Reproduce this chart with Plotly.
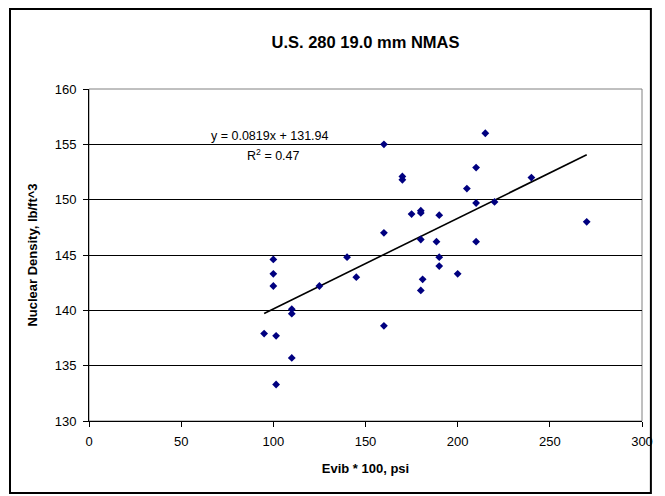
import plotly.graph_objects as go

# Data
evib = [95, 100, 100, 100, 101.5, 101.5, 110, 110, 110, 125, 140, 145,
        160, 160, 160, 170, 170, 175, 180, 180, 180, 180, 181, 188.5,
        190, 190, 190, 200, 205, 210, 210, 210, 215, 220, 240, 270]
density = [137.9, 144.6, 143.3, 142.2, 137.7, 133.3, 140.1, 139.7, 135.7, 142.2, 144.8, 143.0,
           155.0, 147.0, 138.6, 152.1, 151.8, 148.7, 149.0, 148.8, 146.4, 141.8, 142.8, 146.2,
           148.6, 144.8, 144.0, 143.3, 151.0, 152.9, 149.7, 146.2, 156.0, 149.8, 152.0, 148.0]

slope = 0.0819
intercept = 131.94
r2 = 0.47

x_ticks = [0, 50, 100, 150, 200, 250, 300]
y_ticks = [130, 135, 140, 145, 150, 155, 160]

FONT = "Liberation Sans, Arial, sans-serif"

W, H = 665, 496
L, R, T, B = 89, 16, 89, 75
pw, ph = W - L - R, H - T - B

def px_to_paper_x(px):
    return (px - L) / pw

def py_to_paper_y(py):
    return (H - B - py) / ph

x_min, x_max = min(evib), max(evib)
trend_x = [x_min, x_max]
trend_y = [slope * v + intercept for v in trend_x]

fig = go.Figure()
fig.add_trace(go.Scatter(
    x=trend_x, y=trend_y, mode="lines",
    line=dict(color="black", width=1.6), hoverinfo="skip", showlegend=False))
fig.add_trace(go.Scatter(
    x=evib, y=density, mode="markers",
    marker=dict(symbol="diamond", size=6, color="#000080"),
    showlegend=False))

fig.update_layout(
    width=W, height=H,
    margin=dict(l=L, r=R, t=T, b=B, pad=0),
    paper_bgcolor="white", plot_bgcolor="white",
    font=dict(family=FONT, size=13, color="black"),
    title=dict(text="<b>U.S. 280 19.0 mm NMAS</b>", x=0.5, xref="paper",
               y=1 - 42 / H, yanchor="middle", font=dict(size=16.5, family=FONT)),
    xaxis=dict(range=[0, 300], tickvals=x_ticks, ticks="outside", ticklen=5,
               tickcolor="black", showline=True, linecolor="black", linewidth=1,
               showgrid=False, zeroline=False, ticklabelstandoff=3,
               tickfont=dict(size=13, family=FONT),
               title=dict(text="<b>Evib * 100, psi</b>", font=dict(size=13, family=FONT), standoff=16)),
    yaxis=dict(range=[130, 160], tickvals=y_ticks, ticks="outside", ticklen=5,
               tickcolor="black", showline=True, linecolor="black", linewidth=1,
               showgrid=True, gridcolor="black", gridwidth=1, zeroline=False,
               tickfont=dict(size=13, family=FONT), ticklabelstandoff=4,
               title=dict(text="<b>Nuclear Density, lb/ft^3</b>", font=dict(size=13, family=FONT), standoff=14)),
)

# plot area border (gray)
fig.add_shape(type="rect", xref="paper", yref="paper", x0=0, y0=0, x1=1, y1=1,
              line=dict(color="#808080", width=1), layer="below")
# outer chart border
fig.add_shape(type="rect", xref="paper", yref="paper",
              x0=px_to_paper_x(9), x1=px_to_paper_x(658),
              y0=py_to_paper_y(493), y1=py_to_paper_y(9),
              line=dict(color="black", width=2))

# trendline labels
fig.add_annotation(x=px_to_paper_x(272), y=py_to_paper_y(136), xref="paper", yref="paper",
                   text=f"y = {slope}x + {intercept}", showarrow=False,
                   font=dict(size=12.5, family=FONT), xanchor="center", yanchor="middle")
fig.add_annotation(x=px_to_paper_x(276), y=py_to_paper_y(155), xref="paper", yref="paper",
                   text=f"R<sup>2</sup> = {r2}", showarrow=False,
                   font=dict(size=12.5, family=FONT), xanchor="center", yanchor="middle")

fig.write_html("out.html")
